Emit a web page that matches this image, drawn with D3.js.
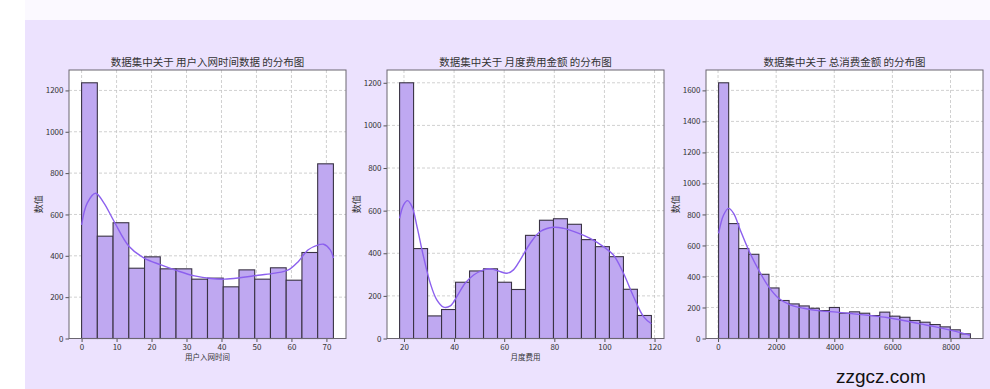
<!DOCTYPE html>
<html>
<head>
<meta charset="utf-8">
<script src="https://cdn.jsdelivr.net/npm/d3@7"></script>
<style>
  body { margin: 0; background: #fff; }
  svg text { font-family: "Noto Sans CJK SC", "DejaVu Sans", sans-serif; fill: #333; }
</style>
</head>
<body>
<div class="chart"></div>
<script>
// ---- data ----
const titles = ["用户入网时间数据", "月度费用金额", "总消费金额"];
const xLabels = ["用户入网时间", "月度费用", ""];

const tenureRange = [0, 72];
const tenureCounts = [1237, 495, 560, 340, 395, 337, 337, 287, 292, 250, 332, 287, 342, 282, 416, 845];
const tenureKdeX = [0, 1.6, 4, 6.4, 9.3, 13.6, 17.9, 22.7, 27.5, 32.3, 37, 40.9, 45.7, 50.5, 55.3, 59.1, 62, 64.8, 67.7, 69.2, 71.1, 72];
const tenureKdeY = [550, 655, 703, 655, 566, 445, 389, 356, 327, 303, 290, 287, 295, 306, 316, 332, 373, 429, 453, 456, 429, 389];
const tenureXTicks = [0, 10, 20, 30, 40, 50, 60, 70];
const tenureYTicks = [0, 200, 400, 600, 800, 1000, 1200];

const monthlyRange = [18.25, 118.75];
const monthlyCounts = [1200, 422, 106, 136, 264, 317, 327, 264, 230, 484, 555, 562, 536, 464, 431, 384, 231, 108];
const monthlyKdeX = [18.25, 19.85, 21.4, 23.2, 25.2, 27.8, 30.5, 33.1, 35.8, 38.5, 41.1, 44.4, 47.8, 51.8, 54.4, 57.7, 61.1, 63.7, 66.4, 70.4, 74.4, 79.7, 83.7, 89, 94.3, 99.6, 103.6, 107.6, 111.6, 115.6, 118.75];
const monthlyKdeY = [564, 627, 647, 619, 525, 384, 259, 181, 147, 153, 197, 259, 298, 322, 327, 317, 306, 322, 369, 447, 502, 522, 517, 497, 470, 431, 392, 306, 197, 103, 69];
const monthlyXTicks = [20, 40, 60, 80, 100, 120];
const monthlyYTicks = [0, 200, 400, 600, 800, 1000, 1200];

const totalRange = [18.8, 8684.8];
const totalCounts = [1649, 741, 580, 543, 414, 326, 245, 223, 210, 195, 180, 200, 163, 172, 163, 148, 170, 144, 137, 116, 105, 90, 75, 56, 30];
const totalKdeX = [19, 191, 363, 535, 764, 1051, 1395, 1739, 2083, 2484, 2943, 3516, 4090, 4663, 5237, 5810, 6384, 6957, 7530, 8104, 8677];
const totalKdeY = [678, 796, 839, 807, 700, 571, 442, 335, 260, 217, 195, 178, 170, 159, 148, 135, 116, 94, 73, 49, 21];
const totalXTicks = [0, 2000, 4000, 6000, 8000];
const totalYTicks = [0, 200, 400, 600, 800, 1000, 1200, 1400, 1600];

const panels = [
  {range: tenureRange, counts: tenureCounts, kx: tenureKdeX, ky: tenureKdeY, xt: tenureXTicks, yt: tenureYTicks, left: 69},
  {range: monthlyRange, counts: monthlyCounts, kx: monthlyKdeX, ky: monthlyKdeY, xt: monthlyXTicks, yt: monthlyYTicks, left: 387},
  {range: totalRange, counts: totalCounts, kx: totalKdeX, ky: totalKdeY, xt: totalXTicks, yt: totalYTicks, left: 706}
];

// ---- chart ----
const outWidth = 990, outHeight = 389;
const plotTop = 70, plotBottom = 338.5, pw = 277;

const svg = d3.select('.chart').append('svg')
  .attr("width", outWidth)
  .attr("height", outHeight);

// page backgrounds
svg.append("rect").attr("x", 25).attr("y", 0).attr("width", outWidth - 25).attr("height", 20).attr("fill", "#fbf9ff");
svg.append("rect").attr("x", 25).attr("y", 20).attr("width", outWidth - 25).attr("height", outHeight - 20).attr("fill", "#ece2fe");

panels.forEach((p, k) => {
  const span = p.range[1] - p.range[0];
  const binW = span / p.counts.length;
  const yMax = d3.max(p.counts) * 1.05;

  const x = d3.scaleLinear()
    .domain([p.range[0] - span * 0.05, p.range[1] + span * 0.05])
    .range([p.left, p.left + pw]);
  const y = d3.scaleLinear()
    .domain([0, yMax])
    .range([plotBottom, plotTop]);

  const g = svg.append("g");

  g.append("rect")
    .attr("x", p.left).attr("y", plotTop)
    .attr("width", pw).attr("height", plotBottom - plotTop)
    .attr("fill", "#fff");

  // grid
  g.selectAll(".vgrid").data(p.xt).enter().append("line")
    .attr("x1", d => x(d)).attr("x2", d => x(d))
    .attr("y1", plotTop).attr("y2", plotBottom)
    .attr("stroke", "#c4c4c4").attr("stroke-width", 0.8).attr("stroke-dasharray", "3,2");
  g.selectAll(".hgrid").data(p.yt).enter().append("line")
    .attr("x1", p.left).attr("x2", p.left + pw)
    .attr("y1", d => y(d)).attr("y2", d => y(d))
    .attr("stroke", "#c4c4c4").attr("stroke-width", 0.8).attr("stroke-dasharray", "3,2");

  // bars
  g.selectAll(".bar").data(p.counts).enter().append("rect")
    .attr("x", (d, i) => x(p.range[0] + i * binW))
    .attr("width", (d, i) => x(p.range[0] + (i + 1) * binW) - x(p.range[0] + i * binW))
    .attr("y", d => y(d))
    .attr("height", d => plotBottom - y(d))
    .attr("fill", "#bfa8f1")
    .attr("stroke", "#3a3344")
    .attr("stroke-width", 1.1);

  // kde
  const line = d3.line()
    .x((d, i) => x(p.kx[i]))
    .y(d => y(d))
    .curve(d3.curveCatmullRom);
  g.append("path")
    .attr("d", line(p.ky))
    .attr("fill", "none")
    .attr("stroke", "#8c60ee")
    .attr("stroke-width", 1.4);

  // axes
  const xAxis = d3.axisBottom(x).tickValues(p.xt).tickFormat(d3.format("d")).tickSize(3.5).tickPadding(2);
  const yAxis = d3.axisLeft(y).tickValues(p.yt).tickFormat(d3.format("d")).tickSize(3.5).tickPadding(2);
  const gx = g.append("g").attr("transform", `translate(0, ${plotBottom})`).call(xAxis);
  const gy = g.append("g").attr("transform", `translate(${p.left}, 0)`).call(yAxis);
  [gx, gy].forEach(a => {
    a.select(".domain").remove();
    a.selectAll("line").attr("stroke", "#555");
    a.selectAll("text").style("font-size", "8px").attr("fill", "#333");
  });

  // frame
  g.append("rect")
    .attr("x", p.left).attr("y", plotTop)
    .attr("width", pw).attr("height", plotBottom - plotTop)
    .attr("fill", "none").attr("stroke", "#6b6670").attr("stroke-width", 1);

  g.append("text")
    .attr("x", p.left + pw / 2).attr("y", 66)
    .attr("text-anchor", "middle")
    .style("font-size", "10.5px")
    .text(`数据集中关于 ${titles[k]} 的分布图`);

  g.append("text")
    .attr("transform", `translate(${p.left - 30}, ${(plotTop + plotBottom) / 2}) rotate(-90)`)
    .attr("text-anchor", "middle")
    .attr("dy", "0.35em")
    .style("font-size", "9px")
    .text("数值");

  if (xLabels[k]) {
    g.append("text")
      .attr("x", p.left + pw / 2).attr("y", 360)
      .attr("text-anchor", "middle")
      .style("font-size", "7.5px")
      .text(xLabels[k]);
  }
});

svg.append("text")
  .attr("x", 836).attr("y", 383)
  .style("font-family", "'Liberation Sans', Arial, sans-serif")
  .style("font-size", "19px")
  .style("fill", "#111")
  .text("zzgcz.com");
</script>
</body>
</html>
